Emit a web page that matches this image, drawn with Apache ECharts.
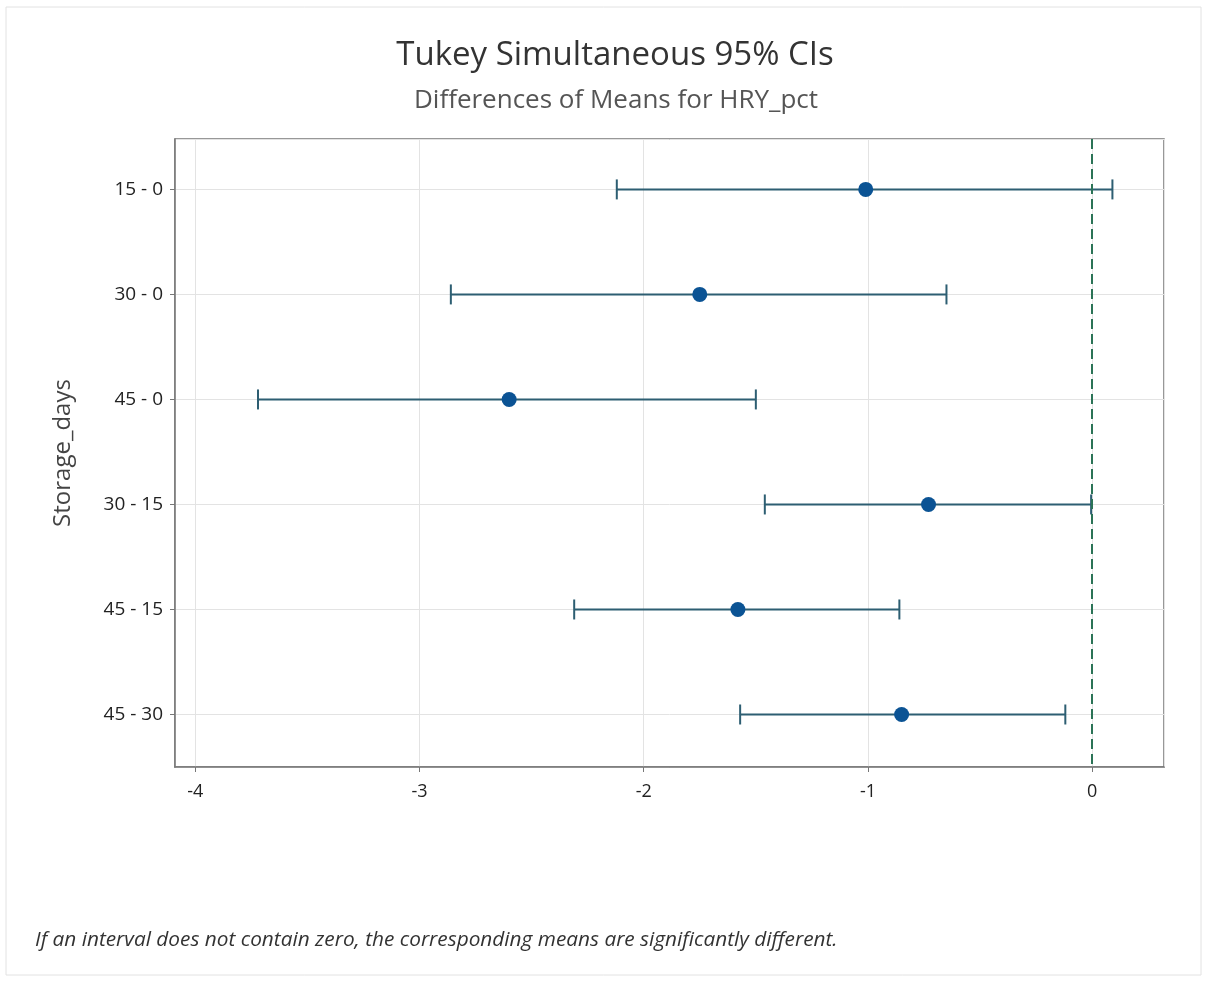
<!DOCTYPE html>
<html>
<head>
<meta charset="utf-8">
<script src="https://cdn.jsdelivr.net/npm/echarts@6/dist/echarts.min.js"></script>
<style>
html,body{margin:0;padding:0;background:#fff;}
#chart{width:1208px;height:981px;}
</style>
</head>
<body>
<div id="chart"></div>
<script>
const categories = ['15 - 0', '30 - 0', '45 - 0', '30 - 15', '45 - 15', '45 - 30'];
const centers = [-1.01, -1.75, -2.60, -0.73, -1.58, -0.85];
const lowers = [-2.12, -2.86, -3.72, -1.46, -2.31, -1.57];
const uppers = [0.09, -0.65, -1.50, -0.005, -0.86, -0.12];
const xTicks = [-4, -3, -2, -1, 0];

const chart = echarts.init(document.getElementById('chart'));
const FONT = '"Open Sans", "Noto Sans", sans-serif';

const barData = categories.map((c, i) => [lowers[i], uppers[i], i]);
const pointData = categories.map((c, i) => [centers[i], i]);

const option = {
  backgroundColor: '#ffffff',
  animation: false,
  title: [
    { text: 'Tukey Simultaneous 95% CIs', left: 610, top: 34, textAlign: 'center',
      textStyle: { fontFamily: FONT, fontSize: 33, fontWeight: 'normal', color: '#333' } },
    { text: 'Differences of Means for HRY_pct', left: 611, top: 83, textAlign: 'center',
      textStyle: { fontFamily: FONT, fontSize: 26, fontWeight: 'normal', color: '#555' } }
  ],
  grid: { left: 175, right: 44, top: 139, bottom: 214, show: true, borderColor: '#777', borderWidth: 1.5, backgroundColor: '#fff' },
  xAxis: {
    type: 'value', min: -4.09, max: 0.32, splitNumber: 4,
    axisLine: { show: true, onZero: false, lineStyle: { color: '#777', width: 1.5 } },
    axisTick: { show: true, length: 5, lineStyle: { color: '#777' } },
    axisLabel: { margin: 16, fontFamily: FONT, fontSize: 18, color: '#222', showMinLabel: false, showMaxLabel: false,
      formatter: v => xTicks.includes(v) ? String(v) : '' },
    splitLine: { show: true, lineStyle: { color: '#e3e3e3', width: 1 } }
  },
  yAxis: {
    type: 'value', inverse: true, min: -0.48, max: 5.5, splitNumber: 6,
    name: 'Storage_days', nameLocation: 'middle', nameRotate: 90, nameGap: 100,
    nameTextStyle: { fontFamily: FONT, fontSize: 24, color: '#444' },
    axisLine: { show: true, onZero: false, lineStyle: { color: '#777', width: 1.5 } },
    axisTick: { show: true, length: 5, lineStyle: { color: '#777' } },
    axisLabel: { margin: 12, fontFamily: FONT, fontSize: 19, color: '#222', showMinLabel: false, showMaxLabel: false,
      formatter: v => (Number.isInteger(v) && categories[v] !== undefined) ? categories[v] : '' },
    splitLine: { show: true, lineStyle: { color: '#e3e3e3', width: 1 } }
  },
  graphic: [
    { type: 'rect', shape: { x: 6, y: 7, width: 1195, height: 968 }, style: { fill: 'none', stroke: '#e2e2e2', lineWidth: 1 }, z: -10 },
    { type: 'text', left: 35, top: 930,
      style: { text: 'If an interval does not contain zero, the corresponding means are significantly different.',
        font: 'italic 20.8px "Open Sans", "Noto Sans", sans-serif', fill: '#333' } }
  ],
  series: [
    {
      type: 'custom',
      data: barData,
      encode: { x: [0, 1], y: 2 },
      renderItem: function (params, api) {
        const lo = api.coord([api.value(0), api.value(2)]);
        const hi = api.coord([api.value(1), api.value(2)]);
        const cap = 10;
        const style = { stroke: '#2d5e72', lineWidth: 2, fill: 'none' };
        return {
          type: 'group',
          children: [
            { type: 'line', shape: { x1: lo[0], y1: lo[1], x2: hi[0], y2: hi[1] }, style: style },
            { type: 'line', shape: { x1: lo[0], y1: lo[1] - cap, x2: lo[0], y2: lo[1] + cap }, style: style },
            { type: 'line', shape: { x1: hi[0], y1: hi[1] - cap, x2: hi[0], y2: hi[1] + cap }, style: style }
          ]
        };
      },
      z: 3
    },
    {
      type: 'scatter',
      data: pointData,
      symbol: 'circle',
      symbolSize: 15,
      itemStyle: { color: '#0b5394', opacity: 1 },
      z: 4,
      markLine: {
        silent: true,
        symbol: 'none',
        label: { show: false },
        lineStyle: { color: '#2b7356', type: [10, 5], width: 2 },
        data: [{ xAxis: 0 }]
      }
    }
  ]
};
chart.setOption(option);
</script>
</body>
</html>
